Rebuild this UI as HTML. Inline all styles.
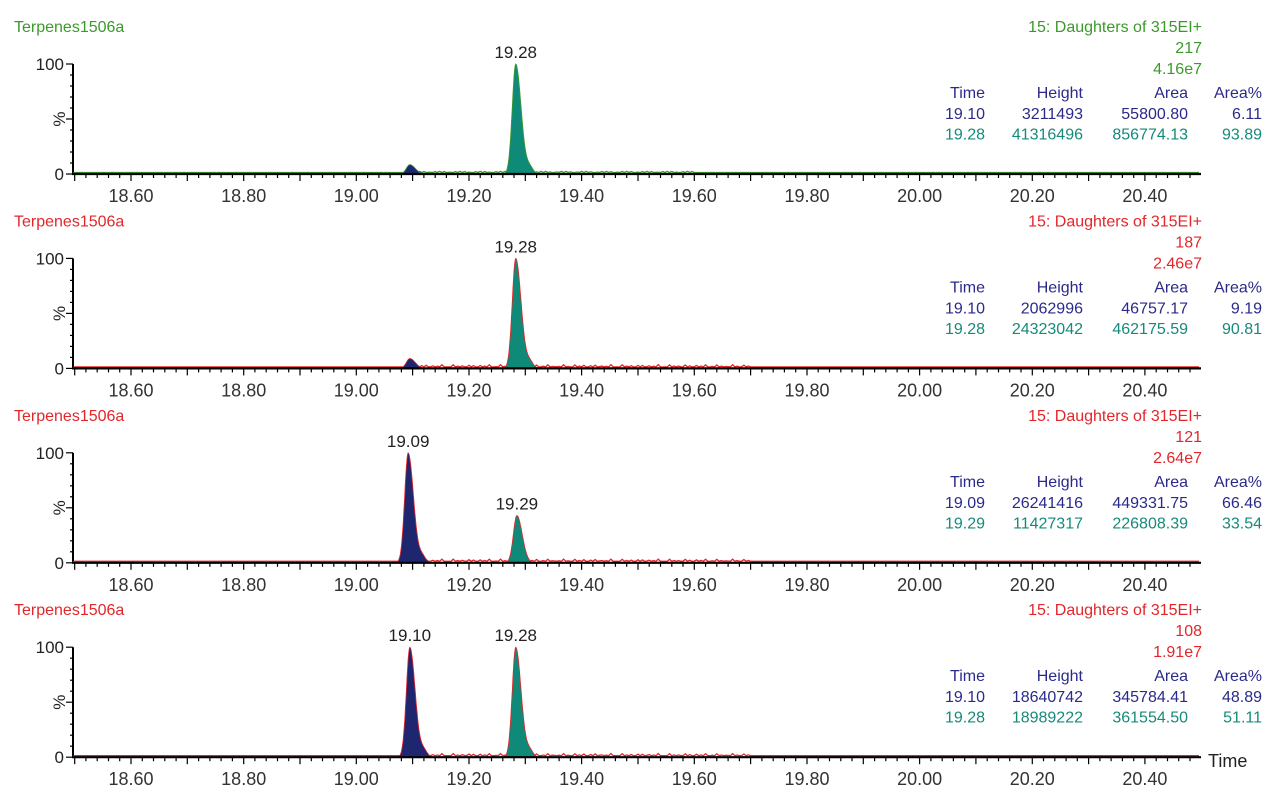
<!DOCTYPE html>
<html><head><meta charset="utf-8">
<style>
body{margin:0;background:#fff;}
svg{display:block;font-family:"Liberation Sans",Arial,sans-serif;}
</style></head>
<body>
<svg id="s" width="1280" height="812" viewBox="0 0 1280 812"></svg>
<script>
const S=document.getElementById('s');
let out='';
const X=t=>131+(t-18.6)*563.3;
const NAVY='#2a2a8a',TEAL='#168a7a',NFILL='#1e2670',TFILL='#0f8a78';
const panels=[
 {col:'#3a9a2a',ch:'217',sc:'4.16e7',peaks:[[19.095,0.085],[19.283,1.0]],labels:[[19.283,'19.28']],
  rows:[['19.10','3211493','55800.80','6.11'],['19.28','41316496','856774.13','93.89']]},
 {col:'#e2262a',ch:'187',sc:'2.46e7',peaks:[[19.095,0.09],[19.283,1.0]],labels:[[19.283,'19.28']],
  rows:[['19.10','2062996','46757.17','9.19'],['19.28','24323042','462175.59','90.81']]},
 {col:'#e2262a',ch:'121',sc:'2.64e7',peaks:[[19.092,1.0],[19.285,0.43]],labels:[[19.092,'19.09'],[19.285,'19.29']],
  rows:[['19.09','26241416','449331.75','66.46'],['19.29','11427317','226808.39','33.54']]},
 {col:'#e2262a',ch:'108',sc:'1.91e7',peaks:[[19.095,1.0],[19.283,1.0]],labels:[[19.095,'19.10'],[19.283,'19.28']],
  rows:[['19.10','18640742','345784.41','48.89'],['19.28','18989222','361554.50','51.11']]}
];
function peakPath(t0,h,y0,H){
  let pts=[];
  for(let t=t0-0.03;t<=t0+0.05;t+=0.001){
    const d=t-t0; const s=d<0?0.0062:0.0095;
    let v=h*Math.exp(-d*d/(2*s*s));
    if(d>0) v+=h*0.06*Math.exp(-Math.pow(d-0.025,2)/(2*0.006*0.006))*(h>0.5?1:0);
    pts.push([X(t),y0-v*H]);
  }
  pts=pts.filter(p=>y0-p[1]>0.4);
  return pts;
}
panels.forEach((p,i)=>{
  const off=i*194.4;
  const y0=174+off, yt=64+off, H=y0-yt;
  out+=`<text x="14" y="${32+off}" font-size="16" fill="${p.col}">Terpenes1506a</text>`;
  out+=`<text x="1202" y="${32+off}" font-size="16" fill="${p.col}" text-anchor="end">15: Daughters of 315EI+</text>`;
  out+=`<text x="1202" y="${53+off}" font-size="16" fill="${p.col}" text-anchor="end">${p.ch}</text>`;
  out+=`<text x="1202" y="${74+off}" font-size="16" fill="${p.col}" text-anchor="end">${p.sc}</text>`;
  const cx=[985,1083,1188,1262];
  ['Time','Height','Area','Area%'].forEach((h,j)=>out+=`<text x="${cx[j]}" y="${98+off}" font-size="16" fill="${NAVY}" text-anchor="end">${h}</text>`);
  p.rows.forEach((r,k)=>r.forEach((v,j)=>out+=`<text x="${cx[j]}" y="${119+k*20.5+off}" font-size="16" fill="${k?TEAL:NAVY}" text-anchor="end">${v}</text>`));
  out+=`<line x1="73" y1="${yt}" x2="73" y2="${y0}" stroke="#000" stroke-width="2"/>`;
  for(let k=0;k<=10;k++){const y=y0-k*H/10;out+=`<line x1="${k%5==0?66:70}" y1="${y}" x2="73" y2="${y}" stroke="#000" stroke-width="1.2"/>`;}
  out+=`<text x="64" y="${yt+6}" font-size="17" fill="#222" text-anchor="end">100</text>`;
  out+=`<text x="64" y="${y0+6}" font-size="17" fill="#222" text-anchor="end">0</text>`;
  out+=`<text transform="translate(65 ${yt+55}) rotate(-90)" font-size="17" fill="#222" text-anchor="middle">%</text>`;
  let np=`M73 ${y0-1}`;
  for(let t=18.5;t<=20.5;t+=0.004){
    let n=0;
    if(t>19.1&&t<19.7&&i>0) n=Math.max(0,Math.sin(t*900)*1.6+Math.sin(t*377)*0.8);
    else if(t>19.1&&t<19.6) n=Math.max(0,Math.sin(t*700)*1.2);
    np+=` L${X(t).toFixed(1)} ${(y0-1.5-n).toFixed(1)}`;
  }
  out+=`<path d="${np}" fill="none" stroke="${p.col}" stroke-width="1.3"/>`;
  p.peaks.forEach((pk,k)=>{
    const pts=peakPath(pk[0],pk[1],y0,H);
    if(!pts.length)return;
    const d='M'+pts[0][0].toFixed(1)+' '+y0+' '+pts.map(q=>'L'+q[0].toFixed(1)+' '+q[1].toFixed(1)).join(' ')+' L'+pts[pts.length-1][0].toFixed(1)+' '+y0+'Z';
    out+=`<path d="${d}" fill="${k==0?NFILL:TFILL}" stroke="${p.col}" stroke-width="0.8"/>`;
  });
  p.labels.forEach(l=>{
    const pk=p.peaks.find(q=>q[0]==l[0]);
    out+=`<text x="${X(l[0])}" y="${y0-pk[1]*H-6}" font-size="17" fill="#222" text-anchor="middle">${l[1]}</text>`;
  });
  out+=`<line x1="72" y1="${y0}" x2="1201" y2="${y0}" stroke="#000" stroke-width="2.2"/>`;
  for(let k=0;k<=100;k++){
    const t=18.5+k*0.02; const x=X(t); if(x>1201)break;
    const major=k%5==0;
    out+=`<line x1="${x.toFixed(1)}" y1="${y0}" x2="${x.toFixed(1)}" y2="${y0+(major?7:4)}" stroke="#000" stroke-width="1.2"/>`;
  }
  for(let t=18.6;t<20.45;t+=0.2){
    out+=`<text x="${X(t).toFixed(1)}" y="${y0+28}" font-size="18" fill="#333" text-anchor="middle">${t.toFixed(2)}</text>`;
  }
});
out+=`<text x="1208" y="767" font-size="18" fill="#222">Time</text>`;
S.innerHTML=out;
</script>
</body></html>
